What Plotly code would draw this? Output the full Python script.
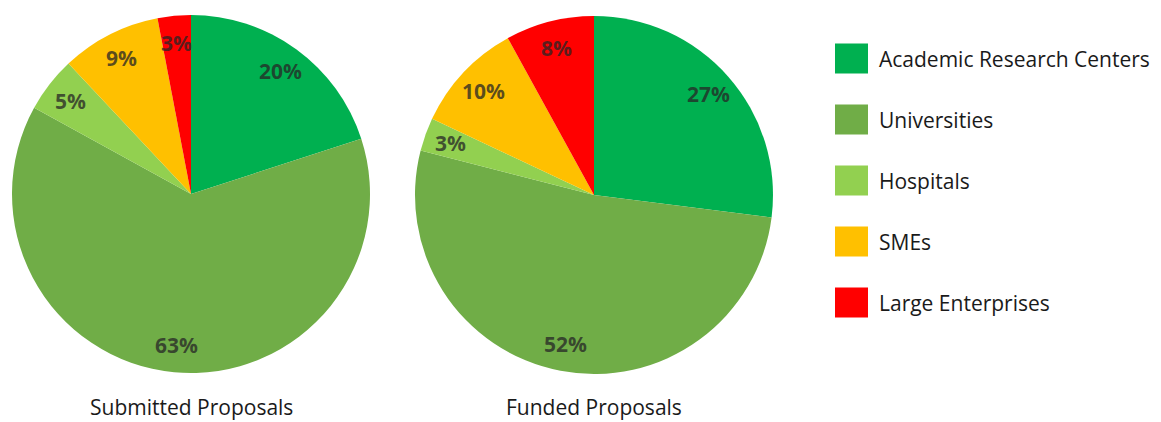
import math
import plotly.graph_objects as go

# Organisation types and their shares (%) of submitted and funded proposals
categories = ["Academic Research Centers", "Universities", "Hospitals", "SMEs", "Large Enterprises"]
submitted = [20, 63, 5, 9, 3]
funded = [27, 52, 3, 10, 8]
colors = ["#00B050", "#70AD47", "#92D050", "#FFC000", "#FF0000"]
pie_titles = ["Submitted Proposals", "Funded Proposals"]

W, H = 1161, 422
FONT = "Open Sans"

# pixel geometry of each pie: centre x, centre y, radius
pies = [(191, 194, 179), (594, 195, 179)]

fig = go.Figure()
annotations = []
shapes = []

for (cx, cy, r), values, title in zip(pies, [submitted, funded], pie_titles):
    fig.add_trace(go.Pie(
        labels=categories,
        values=values,
        sort=False,
        direction="clockwise",
        rotation=0,
        marker=dict(colors=colors, line=dict(width=0)),
        textinfo="none",
        hoverinfo="label+percent",
        showlegend=False,
        domain=dict(x=[(cx - r) / W, (cx + r) / W],
                    y=[1 - (cy + r) / H, 1 - (cy - r) / H]),
    ))
    # percentage labels placed along each slice's mid-angle
    total = sum(values)
    cum = 0
    for v in values:
        mid = (cum + v / 2) / total * 2 * math.pi
        cum += v
        px = cx + 0.85 * r * math.sin(mid)
        py = cy - 0.85 * r * math.cos(mid)
        annotations.append(dict(
            x=px / W, y=1 - py / H, xref="paper", yref="paper",
            text=f"{v}%", showarrow=False, xanchor="center", yanchor="middle",
            font=dict(family=FONT, size=21, color="rgba(38,38,38,0.75)", weight="bold"),
        ))
    annotations.append(dict(
        x=cx / W, y=1 - 407 / H, xref="paper", yref="paper",
        text=title, showarrow=False, xanchor="center", yanchor="middle",
        font=dict(family=FONT, size=21, color="#1a1a1a"),
    ))

# legend: coloured squares with the category names
row0, row_step = 58.5, 61
for i, (name, col) in enumerate(zip(categories, colors)):
    yc = row0 + i * row_step
    shapes.append(dict(
        type="rect", xref="paper", yref="paper",
        x0=835 / W, x1=868 / W, y0=1 - (yc + 15) / H, y1=1 - (yc - 15) / H,
        fillcolor=col, line=dict(width=0),
    ))
    annotations.append(dict(
        x=877 / W, y=1 - yc / H, xref="paper", yref="paper",
        text=name, showarrow=False, xanchor="left", yanchor="middle",
        font=dict(family=FONT, size=21, color="#1a1a1a"),
    ))

fig.update_layout(
    width=W, height=H,
    margin=dict(l=0, r=0, t=0, b=0),
    paper_bgcolor="white", plot_bgcolor="white",
    annotations=annotations, shapes=shapes,
)

fig.write_html("out.html")
